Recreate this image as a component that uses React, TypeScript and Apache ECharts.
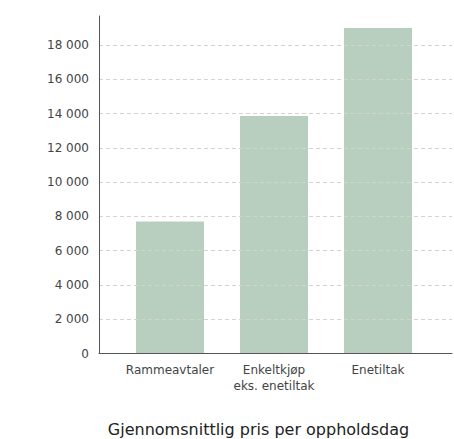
import React, { useEffect, useRef } from "react";
import * as echarts from "echarts";

const categories = ["Rammeavtaler", "Enkeltkjøp\neks. enetiltak", "Enetiltak"];
const prices = [7700, 13870, 19000];
const yMin = 0;
const yMax = 19700;
const yInterval = 2000;
const title = "Gjennomsnittlig pris per oppholdsdag";

const fmt = (v: number) => String(v).replace(/\B(?=(\d{3})+(?!\d))/g, " ");

export default function App() {
  const ref = useRef<HTMLDivElement>(null);
  useEffect(() => {
    if (!ref.current) return;
    const chart = echarts.init(ref.current, undefined, { renderer: "svg" });
    const font = "DejaVu Sans";
    chart.setOption({
      animation: false,
      textStyle: { fontFamily: font },
      grid: [
        { left: 99, width: 353, top: 16, height: 337.5 },
        { left: 118, width: 312, top: 16, height: 337.5 },
      ],
      xAxis: [
        {
          type: "category",
          gridIndex: 0,
          data: [""],
          axisLine: { show: true, lineStyle: { color: "#555", width: 1 } },
          axisTick: { show: false },
          axisLabel: { show: false },
          z: 5,
        },
        {
          type: "category",
          gridIndex: 1,
          data: categories,
          axisLine: { show: false },
          axisTick: { show: false },
          axisLabel: {
            interval: 0,
            color: "#444",
            fontSize: 12,
            lineHeight: 16,
            margin: 8,
            fontFamily: font,
          },
        },
      ],
      yAxis: [
        {
          type: "value",
          gridIndex: 0,
          min: yMin,
          max: yMax,
          interval: yInterval,
          axisLine: { show: true, lineStyle: { color: "#555", width: 1 } },
          axisTick: { show: false },
          axisLabel: {
            color: "#444",
            fontSize: 12,
            margin: 10,
            fontFamily: font,
            showMaxLabel: false,
            formatter: (v: number) => (v % yInterval === 0 ? fmt(v) : ""),
          },
          splitLine: {
            show: true,
            showMaxLine: false,
            lineStyle: { color: "#d3d3d3", type: [4, 3], width: 1 },
          },
          z: 5,
        },
        {
          type: "value",
          gridIndex: 1,
          min: yMin,
          max: yMax,
          show: false,
          splitLine: { show: false },
        },
      ],
      series: [
        {
          type: "bar",
          xAxisIndex: 1,
          yAxisIndex: 1,
          data: prices,
          barCategoryGap: "34.6%",
          itemStyle: { color: "#b8cfbf" },
        },
      ],
      graphic: [
        {
          type: "text",
          x: 258.5,
          y: 429.5,
          style: {
            text: title,
            align: "center",
            verticalAlign: "middle",
            fontSize: 16,
            fontFamily: font,
            fill: "#222",
          },
        },
      ],
    });
    return () => chart.dispose();
  }, []);
  return (
    <div
      ref={ref}
      style={{ position: "fixed", left: 0, top: 0, width: 454, height: 439, background: "#fff" }}
    />
  );
}
